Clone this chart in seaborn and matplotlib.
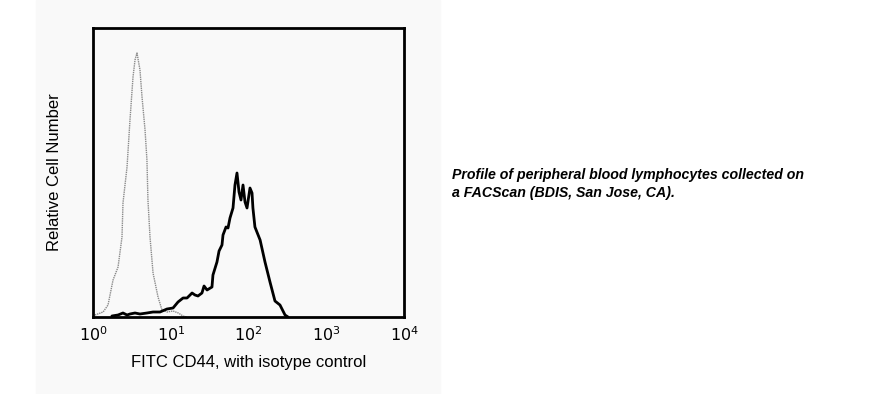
import matplotlib
matplotlib.use('Agg')
import matplotlib.pyplot as plt
import matplotlib.patches as mpatches
import numpy as np
import pandas as pd
import seaborn as sns

sns.set_style('white')
plt.rcParams['font.family'] = ['Liberation Sans', 'DejaVu Sans']
plt.rcParams['text.color'] = 'black'
plt.rcParams['axes.labelcolor'] = 'black'
plt.rcParams['xtick.color'] = 'black'

# isotype control (grey dotted curve)
iso_fl = [1.06, 1.35, 1.56, 1.81, 2.10, 2.36, 2.43, 2.74, 2.99, 3.27, 3.47, 3.68,
          4.02, 4.27, 4.67, 4.94, 5.09, 5.41, 5.92, 6.86, 7.71, 9.0, 10.7, 12.5, 14.4, 16.0]
iso_count = [2, 5, 12, 37, 50, 80, 114, 150, 197, 240, 257, 264,
             247, 220, 187, 157, 117, 80, 44, 20, 7, 5, 6, 4, 1, 0]

# FITC CD44 (black curve)
cd44_fl = [1.75, 2.10, 2.43, 2.74, 2.99, 3.47, 4.02, 4.94, 5.92, 6.65,
           7.27, 8.95, 10.7, 12.4, 14.4, 16.2, 18.8, 20.5, 22.4, 25.2, 26.8, 29.3,
           33.9, 34.9, 39.3, 41.8, 45.6, 47.0, 51.4, 54.5, 57.8, 63.2, 67.0, 71.1,
           75.5, 80.1, 85.0, 90.2, 95.7, 104.5, 111, 114, 121, 141, 163, 189, 219,
           254, 295, 322]
cd44_count = [1, 2, 4, 2, 3, 4, 3, 4, 5, 5,
              5, 8, 9, 15, 19, 19, 24, 22, 21, 24, 31, 27,
              30, 42, 55, 66, 72, 82, 90, 89, 99, 109, 132, 144,
              125, 117, 132, 115, 109, 129, 124, 109, 90, 77, 55, 35, 16,
              12, 2, 0]

tick_vals = [1, 10, 100, 1000, 10000]
tick_labels = ['$10^0$', '$10^1$', '$10^2$', '$10^3$', '$10^4$']

iso_df = pd.DataFrame({'fl': iso_fl, 'count': iso_count})
cd44_df = pd.DataFrame({'fl': cd44_fl, 'count': cd44_count})

fig = plt.figure(figsize=(8.7, 3.94), dpi=100)
fig.patch.set_facecolor('white')
# light grey panel behind the plot
fig.patches.append(mpatches.Rectangle((36 / 870, 0.0), 404 / 870, 1.0,
                                      transform=fig.transFigure, color='#f9f9f9', zorder=-10))

ax = fig.add_axes([93 / 870, 1 - 317 / 394, 311 / 870, 289 / 394])
ax.set_facecolor('#f9f9f9')

sns.lineplot(data=iso_df, x='fl', y='count', sort=False, estimator=None, ax=ax,
             color='#8a8a8a', lw=1.0, linestyle=(0, (1, 0.6)))
sns.lineplot(data=cd44_df, x='fl', y='count', sort=False, estimator=None, ax=ax,
             color='black', lw=2.0)

ax.set_xscale('log')
ax.set_xlim(1, 10000)
ax.set_ylim(0, 289)
ax.set_xticks(tick_vals)
ax.set_xticklabels(tick_labels, fontsize=11.5)
ax.minorticks_off()
ax.set_yticks([])
ax.tick_params(axis='x', length=0, pad=6)
for s in ax.spines.values():
    s.set_color('black')
    s.set_linewidth(2)

ax.set_xlabel('FITC CD44, with isotype control', fontsize=12, labelpad=8)
ax.set_ylabel('Relative Cell Number', fontsize=12, labelpad=22)

fig.text(452 / 870, 1 - 184 / 394,
         'Profile of peripheral blood lymphocytes collected on\na FACScan (BDIS, San Jose, CA).',
         fontsize=10.2, fontweight='bold', fontstyle='italic', ha='left', va='center',
         linespacing=1.45)

plt.savefig('out.png', dpi=100, facecolor=fig.get_facecolor())
